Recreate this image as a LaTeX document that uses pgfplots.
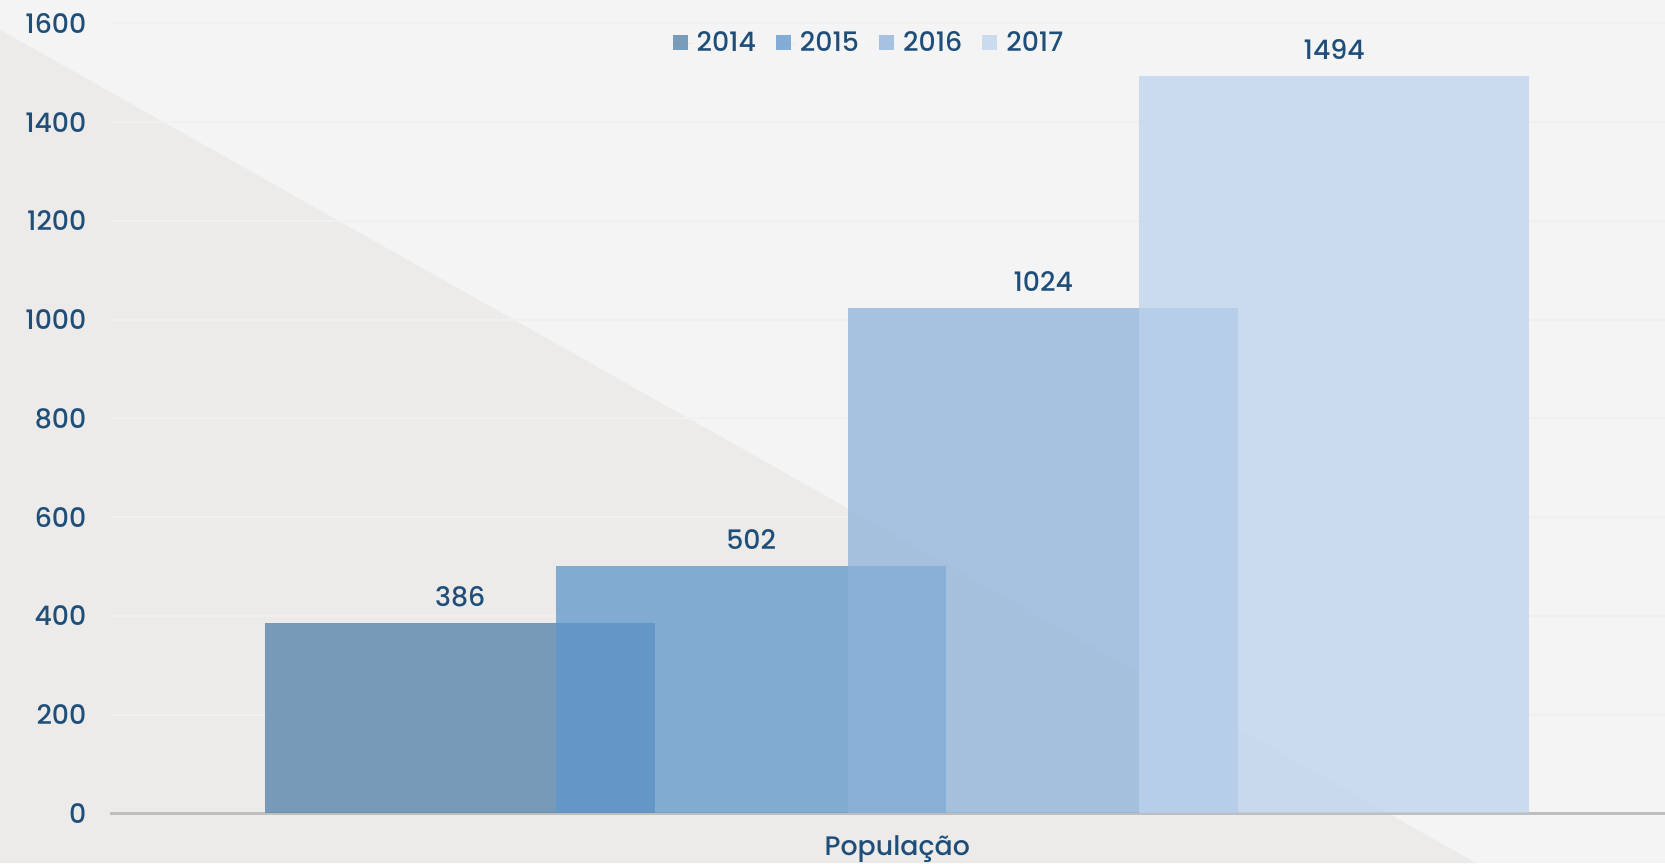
\documentclass[border=0pt]{standalone}
\usepackage{pgfplots}
\pgfplotsset{compat=1.18}
\usepackage{fontspec}
\setmainfont{Poppins Medium}
\definecolor{bgl}{RGB}{244,244,244}
\definecolor{bgd}{RGB}{236,235,233}
\definecolor{txt}{RGB}{31,78,121}
\definecolor{gridc}{RGB}{240,240,240}
\definecolor{axc}{RGB}{190,190,190}
\definecolor{c14}{RGB}{81,127,168}
\definecolor{c15}{RGB}{94,150,202}
\definecolor{c16}{RGB}{140,178,218}
\definecolor{c17}{RGB}{189,211,237}
\newcommand\lab{\fontsize{13.4pt}{16pt}\selectfont}
\begin{document}
\begin{tikzpicture}
\useasboundingbox (0,0) rectangle (832.5pt,431.5pt);
\fill[bgl] (0,0) rectangle (832.5pt,431.5pt);
\fill[bgd] (0,0) -- (0,416.6pt) -- (738pt,0) -- cycle;
\begin{axis}[
  at={(55.2pt,24.8pt)}, anchor=south west,
  scale only axis, width=777.3pt, height=395pt,
  xmin=-2.019, xmax=1.970, ymin=0, ymax=1600,
  /pgf/number format/assume math mode=true,
  /pgf/number format/1000 sep={},
  axis x line*=bottom, axis y line*=left,
  y axis line style={draw=none},
  x axis line style={draw=axc, line width=1.5pt, -},
  major tick length=0pt,
  ytick={0,200,...,1600},
  xtick={0}, xticklabels={População},
  ymajorgrids, grid style={draw=gridc, line width=1pt},
  tick label style={font=\lab, text=txt},
  yticklabel style={xshift=-8.5pt},
  xticklabel style={yshift=-7.5pt},
  legend style={at={(0.4886,0.975)}, anchor=center, draw=none, fill=none,
    font=\lab, text=txt, text opacity=1,
    /tikz/every even column/.append style={column sep=8pt}},
  legend columns=4,
  legend image code/.code={\fill[#1] (0pt,-3.5pt) rectangle (7.5pt,4pt); \path (0pt,0pt) -- (10pt,0pt);},
  every node near coord/.append style={font=\lab, text=txt, text opacity=1, anchor=center, yshift=13pt},
]
\addplot[ybar, bar width=1, bar shift=0pt, draw=none, fill=c14, fill opacity=0.75, nodes near coords] coordinates {(-1.1213,386)};
\addlegendentry{2014}
\addplot[ybar, bar width=1, bar shift=0pt, draw=none, fill=c15, fill opacity=0.75, nodes near coords] coordinates {(-0.3747,502)};
\addlegendentry{2015}
\addplot[ybar, bar width=1, bar shift=0pt, draw=none, fill=c16, fill opacity=0.75, nodes near coords] coordinates {(0.3747,1024)};
\addlegendentry{2016}
\addplot[ybar, bar width=1, bar shift=0pt, draw=none, fill=c17, fill opacity=0.75, nodes near coords] coordinates {(1.1213,1494)};
\addlegendentry{2017}
\end{axis}
\end{tikzpicture}
\end{document}
